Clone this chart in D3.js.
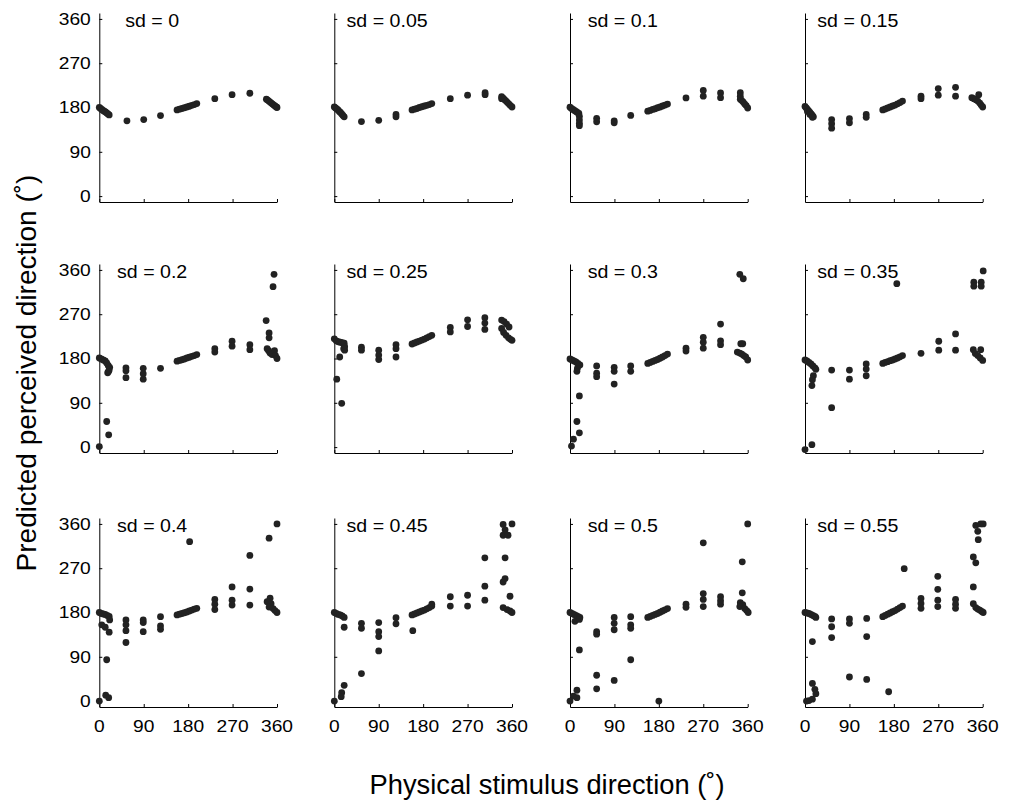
<!DOCTYPE html>
<html><head><meta charset="utf-8">
<script src="https://cdn.jsdelivr.net/npm/d3@7"></script>
<style>body{margin:0;background:#fff} svg{display:block}</style>
</head><body>
<svg id="c" width="1013" height="801"></svg>
<script>
const sdLabels = ["0","0.05","0.1","0.15","0.2","0.25","0.3","0.35","0.4","0.45","0.5","0.55"];
const xTicks = [0,90,180,270,360];
const yTicks = [0,90,180,270,360];

const sd000 = [[0,180],[2.5,178],[5,176],[7.5,174],[10,172.5],[12.5,171],[15,169],[17.5,167],[20,165],
[56,153],[90,155.5],[124,163.5],
[157.5,175],[162.5,176.5],[167.5,178],[172.5,179.5],[177.5,181],[182.5,182.5],[187.5,184.5],[192.5,186],[197.5,188],
[234,198],[269,206],[305,209],
[338.5,197],[341,195],[343.5,193],[346,191],[348.5,189],[351,187],[353.5,185],[356,183],[358.5,181],[360,180]];

const sd005 = [[0,181],[2.5,179],[5,177],[7.5,175],[10,172],[12.5,170],[15,167],[17.5,164],[20,161],
[55,151.5],[90,154],[125,161],[125,166],
[157.5,175],[162.5,176.5],[167.5,178],[172.5,180],[177.5,181.5],[182.5,183],[187.5,184.5],[192.5,186],[197.5,188],
[235,198],[270,205],[305.5,206],[305.5,210],
[339,202],[339,198],[342,199],[345,196],[348,193],[351,190],[354,187],[357,184],[360,181]];

const sd010 = [[0,180.5],[3,178],[6,176],[9,174],[12,172],[15,170],[18,168],[19,162],[19,155],[19,148],[19,143],
[54,158],[54,151],[89.5,153],[89.5,149],[123,164],
[157.5,172.5],[162.5,174],[167.5,176],[172.5,177.5],[177.5,179.5],[182.5,181],[187.5,183],[192.5,185],[197.5,187],
[235,199.5],[270,214.5],[270,203],[305,209.5],[305,200],
[345,210],[345,203],[345,197],[348,194],[351,191],[354,187],[357,184],[360,179]];

const sd015 = [[0,182],[2.5,179],[5,176],[7.5,173],[10,170],[12.5,167],[15,164],[17,161],[5,172],[10,166],[15,160],
[54,155.5],[54,147],[54,138],[90,157.5],[90,149],[124,166],[124,160],
[157.5,175],[162.5,177],[167.5,179],[172.5,181],[177.5,183],[182.5,185],[187.5,187.5],[192.5,190],[197.5,193],
[235,203],[235,198],[270,218.5],[270,205],[305,221],[305,203],
[352,206],[338,200],[342,198],[346,196],[350,193],[354,189],[357,185],[360,181]];

const sd020 = [[0,1],[0,181],[4,179],[8,177],[12,175],[15,171],[18,166],[21,162],[20,157],[17,151],[19,154],[15,52],[19,25],
[54,161],[54,155],[54,141],[89,160],[89,149],[89,138],[124,160],
[157.5,174.5],[162.5,176],[167.5,177.5],[172.5,179],[177.5,181],[182.5,182.5],[187.5,184.5],[192.5,186],[197.5,188],
[234,200],[234,193],[269,215],[269,205],[305,208],[305,198],
[338,257],[344,232],[344,222],[352,326],[354,351],[340,200],[343,196],[346,191],[350,188],[355,196],[357,186],[360,180]];

const sd025 = [[0,220],[4,216],[8,214],[12,213],[16,212],[20,211],[21,204],[21,197],[19,200],[11,183],[5,138],[15,89],
[55,203],[55,197],[90,197],[90,187],[90,178],[125,208],[125,200],[125,183],
[157.5,209.5],[162.5,211.5],[167.5,213.5],[172.5,215.5],[177.5,217.5],[182.5,219.5],[187.5,222],[192.5,224.5],[197.5,227],
[235,243],[235,234],[270,258.5],[270,245],[305,263],[305,252],[305,239],
[339,258],[344,255],[349,250],[354,244],[339,241],[343,233],[348,227],[353,222],[357,219],[360,217]];

const sd030 = [[0,179],[4,177],[8,175],[12,173],[16,170],[20,167],[15,160],[14,154],[19,104],[14,52],[19,29],[7,16],[3,2],
[54,165],[54,150],[54,143],[89.5,162],[89.5,154],[89.5,128],[123,165],[123,154],
[157.5,170],[162.5,172],[167.5,174],[172.5,176],[177.5,178],[182.5,180.5],[187.5,183],[192.5,186],[197.5,189],
[235,201],[235,195],[270,223],[270,213],[270,201],[305,250],[305,216],[305,208],
[344,351],[351,342],[346,210],[350,210],[339,193],[344,191],[348,189],[352,186],[356,183],[360,177]];

const sd035 = [[0,177],[4,175],[8,172],[12,169],[16,165],[20,161],[22,158],[17,145],[15,137],[14,125],[0,-5],[14,5],
[54,156.5],[54,80],[90,156.5],[90,138],[124,169],[124,158.5],[124,145],
[157.5,170],[162.5,172],[167.5,173.5],[172.5,175.5],[177.5,177],[182.5,179],[187.5,181],[192.5,183.5],[197.5,186],
[186,332],
[235,190.5],[271,215],[271,197],[305,230],[305,197],
[342,335],[342,327],[357,335],[357,327],[361,358],[341,198],[356,198],[345,190],[350,186],[355,181],[360,176]];

const sd040 = [[0,180],[4,178],[8,177],[12,176],[16,174],[20,172],[21,165],[5,155],[12,150],[20,140],[15,84],[13,12],[19,7],[0,0],
[54,165],[54,155],[54,143],[54,119],[89,165],[89,159.5],[89,141],[124,171.5],[124,153],[124,146],
[157.5,175],[162.5,176.5],[167.5,178],[172.5,179.5],[177.5,181],[182.5,183],[187.5,185],[192.5,187],[197.5,188.5],
[183,324],
[234,206.5],[234,197],[234,186],[269,232],[269,205],[269,195],[305,296],[305,227.5],[305,195],
[344,331],[360,360],[346,209],[340,202],[348,198],[344,191],[352,188],[356,184],[360,180]];

const sd045 = [[0,180],[4,178],[8,176],[12,175],[16,173],[20,170],[20,150],[0,0],[15,17],[14,9],[20,32],
[55,158],[55,148],[55,56],[90,159.5],[90,141],[90,131],[90,102],[125,169.5],[125,157],
[159,143],[157.5,175],[162.5,177],[167.5,179],[172.5,181],[177.5,183],[182.5,185],[187.5,187.5],[192.5,190],[197.5,193],[197.5,197],
[235,212],[235,193],[270,215],[270,193],[305,291],[305,233.5],[305,205],
[342,359],[346,348],[342,337],[352,337],[360,360],[346,291],[342,242],[346,249],[356,213],[342,190],[350,186],[356,183],[360,180]];

const sd050 = [[0,180],[4,178],[8,176],[12,174],[16,172],[20,170],[10,162],[19,166],[19,104],[14,22],[14,7],[7,10],[0,0],
[54,141],[54,136],[54,52.5],[54,25],[89.5,170],[89.5,158],[89.5,145],[89.5,42],[123,171.5],[123,155],[123,148],[123,84],
[157.5,170],[162.5,172],[167.5,174],[172.5,176],[177.5,178],[182.5,180.5],[187.5,183],[192.5,185.5],[197.5,188],
[180,0],
[235,197],[235,190.5],[270,321.5],[270,218.5],[270,206.5],[270,192],[305,212],[305,204],[305,197],
[360,360],[349,283],[349,220],[345,200],[350,196],[344,192],[354,188],[358,184],[361,180]];

const sd055 = [[0,180],[4,179],[8,178],[12,176],[16,174],[20,172],[22,170],[15,121],[15,36],[20,24],[22,15],[15,4],[3,0],[8,1],
[54,167],[54,151],[54,129],[90,167],[90,158],[90,49],[125,168],[125,131],[125,44],
[157.5,171.5],[162.5,174],[167.5,176.5],[172.5,179],[177.5,181.5],[182.5,184],[187.5,187],[192.5,190],[197.5,193],
[169.5,19],[201,269],
[235,208.5],[235,198.5],[235,188.5],[269,253.5],[269,227],[269,205],[269,192],[305,206.5],[305,197],[305,188.5],
[346,357],[356,360],[361,360],[350,345],[351,328],[341,293],[346,281],[341,232],[341,198],[346,190],[350,187],[354,185],[358,182],[361,180]];

const panels = [sd000,sd005,sd010,sd015,sd020,sd025,sd030,sd035,sd040,sd045,sd050,sd055];

const FONT = "'Liberation Sans', Arial, Helvetica, sans-serif";
const colLeft = [99.3, 334.3, 570, 805];
const rowTop = [13, 264, 518];
const W = 177.7, H = 189;
const x = d3.scaleLinear().domain([0,360]).range([0,W]);
const y = d3.scaleLinear().domain([-12,372]).range([H,0]);

const svg = d3.select("#c");
svg.append("rect").attr("width",1013).attr("height",801).attr("fill","#fff");

panels.forEach((pts, i) => {
  const r = Math.floor(i/4), c = i%4;
  const g = svg.append("g").attr("transform",`translate(${colLeft[c]},${rowTop[r]})`);

  const ya = g.append("g").call(d3.axisLeft(y).tickValues(yTicks).tickSize(-3).tickSizeOuter(0).tickFormat(""));
  const xa = g.append("g").attr("transform",`translate(0,${H})`)
    .call(d3.axisBottom(x).tickValues(xTicks).tickSize(-3).tickSizeOuter(0).tickFormat(""));
  [ya, xa].forEach(a => { a.selectAll("path,line").attr("stroke","#000").attr("stroke-width",1); });

  if (c === 0) {
    g.selectAll("text.yl").data(yTicks).join("text").attr("class","yl")
      .attr("transform", d => `translate(-8.5,${y(d)}) scale(1.2,1)`)
      .attr("text-anchor","end").attr("dy","0.36em")
      .attr("font-family",FONT).attr("font-size",16).attr("fill","#000")
      .text(d => d);
  }
  if (r === 2) {
    g.selectAll("text.xl").data(xTicks).join("text").attr("class","xl")
      .attr("transform", d => `translate(${x(d)},${H+24.5}) scale(1.2,1)`)
      .attr("text-anchor","middle")
      .attr("font-family",FONT).attr("font-size",16).attr("fill","#000")
      .text(d => d);
  }

  g.append("text")
    .attr("transform",`translate(${x(107)},13.5) scale(1.12,1)`)
    .attr("text-anchor","middle")
    .attr("font-family",FONT).attr("font-size",17.5).attr("fill","#000")
    .text("sd = " + sdLabels[i]);

  g.selectAll("circle").data(pts).join("circle")
    .attr("cx", d => x(d[0])).attr("cy", d => y(d[1]))
    .attr("r", 3.4).attr("fill","#222");
});

svg.append("text").attr("x",547).attr("y",793.5).attr("text-anchor","middle")
  .attr("font-family",FONT).attr("font-size",27.3).attr("fill","#000")
  .text("Physical stimulus direction (˚)");
svg.append("text").attr("transform","translate(36,373) rotate(-90)").attr("text-anchor","middle")
  .attr("font-family",FONT).attr("font-size",28).attr("fill","#000")
  .text("Predicted perceived direction (˚)");
</script>
</body></html>
